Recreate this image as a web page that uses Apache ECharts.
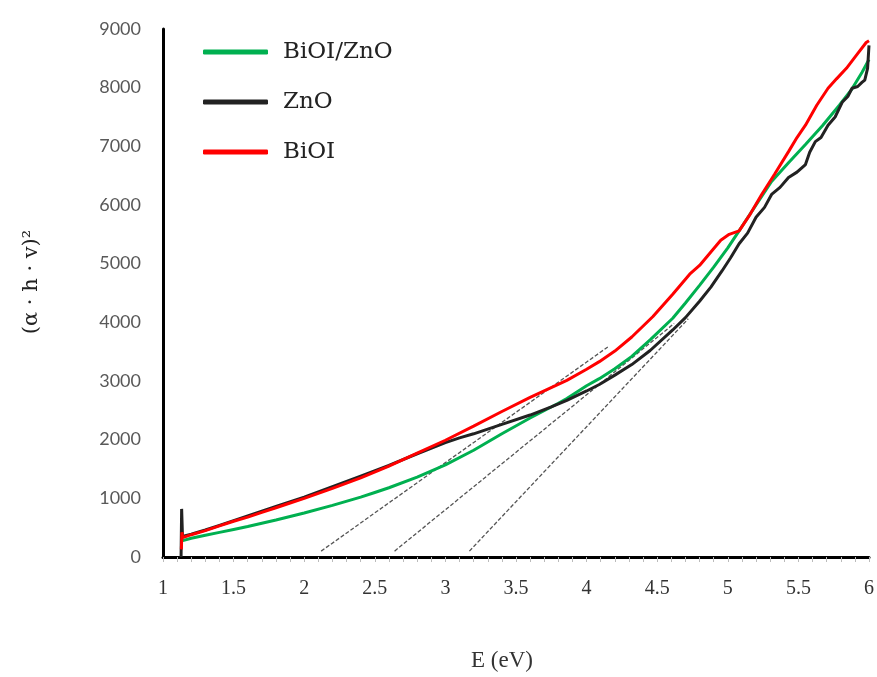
<!DOCTYPE html>
<html>
<head>
    <meta charset="UTF-8">
    <title>BiOI / ZnO Tauc plot</title>
    <style>
        html, body { margin: 0; padding: 0; background: #fff; }
        #chart { width: 877px; height: 677px; }
    </style>
    <script src="https://cdn.jsdelivr.net/npm/echarts@6/dist/echarts.min.js"></script>
</head>
<body>
<div id="chart"></div>
<script>
    // series names
    var seriesNames = ['BiOI/ZnO', 'ZnO', 'BiOI'];

    // BiOI/ZnO  [E, (a h v)^2]
    var bioiZnoData = [
        [1.14, 280], [1.2, 320], [1.3, 370], [1.4, 420], [1.5, 470], [1.6, 520],
        [1.7, 575], [1.8, 630], [1.9, 690], [2.0, 750], [2.2, 880], [2.4, 1020],
        [2.5, 1100], [2.6, 1180], [2.8, 1360], [3.0, 1570], [3.2, 1820], [3.4, 2100],
        [3.6, 2370], [3.8, 2620], [3.86, 2700], [4.0, 2920], [4.09, 3040], [4.2, 3210],
        [4.32, 3420], [4.45, 3700], [4.61, 4070], [4.7, 4330], [4.8, 4630], [4.9, 4940],
        [5.0, 5270], [5.08, 5560], [5.2, 6000], [5.31, 6400], [5.43, 6720], [5.55, 7030],
        [5.67, 7350], [5.79, 7700], [5.88, 7980], [5.95, 8260], [6.0, 8480]
    ];

    // ZnO
    var znoData = [
        [1.128, 0], [1.132, 820], [1.138, 350], [1.2, 390], [1.3, 460], [1.4, 540],
        [1.5, 620], [1.6, 700], [1.8, 860], [2.0, 1020], [2.2, 1200], [2.4, 1380],
        [2.6, 1560], [2.8, 1760], [3.0, 1950], [3.1, 2030], [3.2, 2100], [3.3, 2180],
        [3.4, 2260], [3.6, 2420], [3.75, 2560], [3.86, 2670], [4.0, 2830], [4.09, 2940],
        [4.2, 3100], [4.32, 3280], [4.45, 3520], [4.61, 3870], [4.7, 4080], [4.8, 4360],
        [4.88, 4600], [4.96, 4880], [5.02, 5100], [5.08, 5340], [5.14, 5520], [5.2, 5790],
        [5.26, 5960], [5.31, 6180], [5.37, 6300], [5.43, 6470], [5.49, 6560], [5.55, 6690],
        [5.58, 6900], [5.62, 7080], [5.66, 7150], [5.71, 7360], [5.76, 7500], [5.81, 7750],
        [5.85, 7850], [5.88, 7990], [5.92, 8020], [5.95, 8090], [5.97, 8130], [5.99, 8330],
        [6.0, 8720]
    ];

    // BiOI
    var bioiData = [
        [1.13, 130], [1.134, 420], [1.14, 330], [1.2, 380], [1.3, 450], [1.4, 530],
        [1.5, 610], [1.6, 680], [1.7, 760], [1.8, 840], [1.9, 920], [2.0, 1000],
        [2.2, 1170], [2.4, 1350], [2.6, 1550], [2.8, 1770], [3.0, 1990], [3.2, 2230],
        [3.4, 2480], [3.6, 2720], [3.86, 3010], [4.0, 3200], [4.09, 3330], [4.2, 3510],
        [4.32, 3750], [4.47, 4100], [4.61, 4480], [4.73, 4820], [4.8, 4970], [4.88, 5200],
        [4.95, 5400], [5.01, 5500], [5.08, 5560], [5.16, 5850], [5.24, 6180], [5.33, 6520],
        [5.43, 6910], [5.49, 7150], [5.55, 7360], [5.63, 7700], [5.71, 7990], [5.77, 8150],
        [5.84, 8330], [5.91, 8550], [5.98, 8770], [6.0, 8800]
    ];

    // tangent (dashed) lines
    var tangent1 = [[2.12, 100], [4.15, 3580]];
    var tangent2 = [[2.64, 100], [4.62, 3980]];
    var tangent3 = [[3.17, 100], [4.72, 4060]];

    var xTicks = { min: 1, max: 6, interval: 0.5 };
    var yTicks = { min: 0, max: 9000, interval: 1000 };

    var chart = echarts.init(document.getElementById('chart'));

    function dashed(data) {
        return {
            type: 'line',
            data: data,
            symbol: 'none',
            silent: true,
            lineStyle: { color: '#555', width: 1.3, type: [4, 2] },
            z: 1
        };
    }

    function curve(name, data, color, z) {
        return {
            name: name,
            type: 'line',
            data: data,
            symbol: 'none',
            lineStyle: { color: color, width: 3 },
            itemStyle: { color: color },
            z: z
        };
    }

    var option = {
        animation: false,
        backgroundColor: '#fff',
        grid: { left: 163, right: 7, top: 29, bottom: 112, containLabel: false },
        legend: {
            data: seriesNames,
            orient: 'vertical',
            left: 203,
            top: 40,
            padding: 0,
            itemWidth: 65,
            itemHeight: 5,
            itemGap: 26,
            icon: 'roundRect',
            textStyle: {
                fontFamily: 'DejaVu Serif', fontSize: 23, color: '#222',
                lineHeight: 24, padding: [0, 0, 0, 10]
            }
        },
        xAxis: {
            type: 'value',
            min: xTicks.min,
            max: xTicks.max,
            interval: xTicks.interval,
            name: 'E (eV)',
            nameLocation: 'middle',
            nameGap: 92,
            nameTextStyle: {
                fontFamily: 'Liberation Serif', fontSize: 23, color: '#333',
                padding: [0, 28, 0, 0]
            },
            axisLine: { onZero: false, lineStyle: { color: '#000', width: 3 } },
            axisTick: { show: true, length: 5, lineStyle: { color: '#bbb', width: 1 } },
            minorTick: { show: true, splitNumber: 5, length: 5, lineStyle: { color: '#bbb', width: 1 } },
            axisLabel: { fontFamily: 'Liberation Serif', fontSize: 20, color: '#333', margin: 22 },
            splitLine: { show: false }
        },
        yAxis: {
            type: 'value',
            min: yTicks.min,
            max: yTicks.max,
            interval: yTicks.interval,
            name: '(α · h · v)²',
            nameLocation: 'middle',
            nameGap: 121,
            nameRotate: 90,
            nameTextStyle: {
                fontFamily: 'DejaVu Serif', fontSize: 21, color: '#222',
                padding: [0, 0, 0, 22]
            },
            axisLine: { show: true, lineStyle: { color: '#000', width: 3 } },
            axisTick: { show: false },
            axisLabel: {
                fontFamily: 'Lato', fontSize: 18, color: '#595959', margin: 22,
                formatter: function (v) { return String(v); }
            },
            splitLine: { show: false }
        },
        series: [
            dashed(tangent1),
            dashed(tangent2),
            dashed(tangent3),
            curve('BiOI/ZnO', bioiZnoData, '#00b050', 3),
            curve('ZnO', znoData, '#222222', 4),
            curve('BiOI', bioiData, '#ff0000', 5)
        ]
    };
    chart.setOption(option);
</script>
</body>
</html>
